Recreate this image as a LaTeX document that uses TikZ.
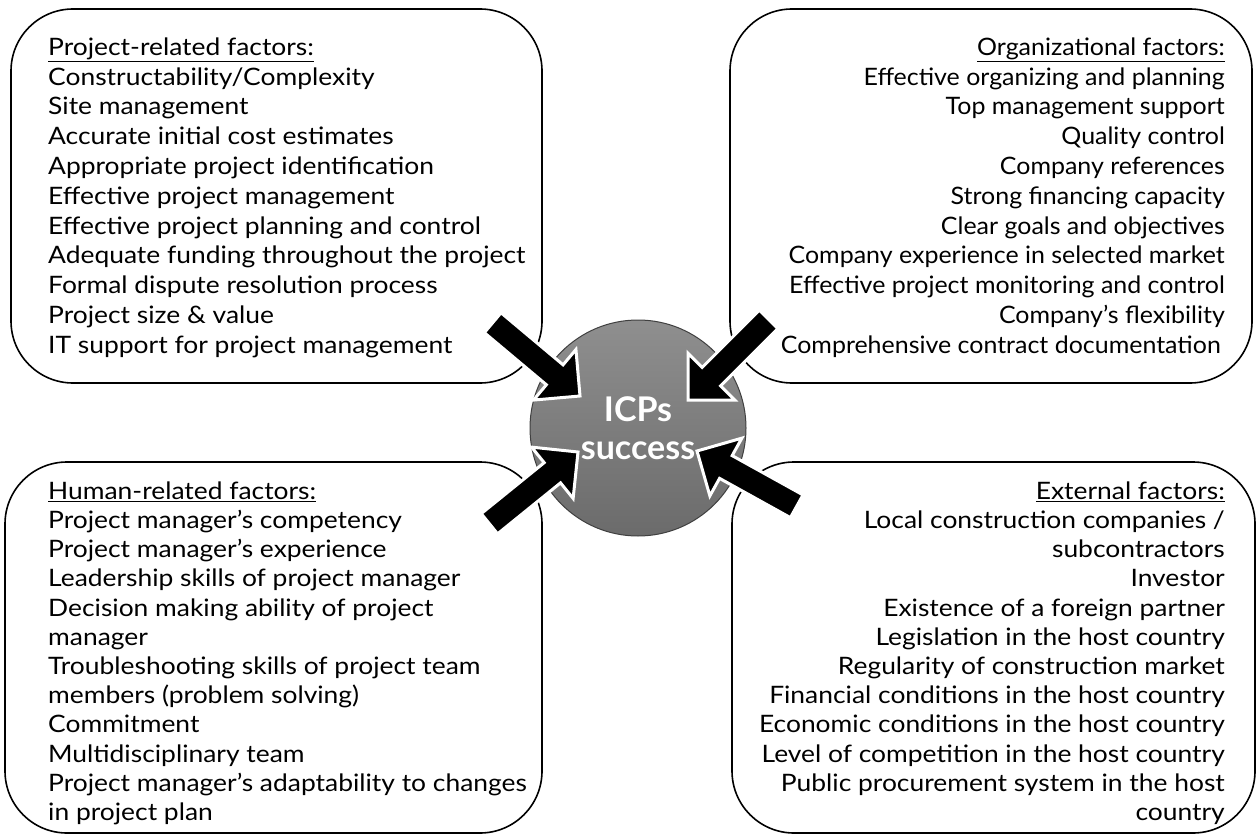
\documentclass[tikz,border=0pt]{standalone}
\usepackage{fontspec}
\setmainfont{Lato}[FakeStretch=1.1]
\newfontfamily\hubfont{Lato}
\newfontfamily\orgfont{Lato}[FakeStretch=1.04]
\usetikzlibrary{matrix}

\begin{document}
\begin{tikzpicture}[x=1pt, y=-1pt,
        factorbox/.style={draw, line width=1.6pt, rounded corners=62pt, fill=white, inner sep=0pt},
        factors/.style={matrix of nodes, inner sep=0pt, row sep=#1,
        nodes={inner sep=0pt, text height=20pt, text depth=8.7pt, font=\fontsize{24}{29}\selectfont}},
        hub/.style={circle, draw=black!75, line width=1pt, minimum size=216pt, top color=black!44, bottom color=black!58,
        text=white, align=center, font=\hubfont\fontsize{34}{38}\selectfont\bfseries},
        arrowshape/.style={fill=black, draw=white, line width=3pt, line join=miter},
        bigarrow/.pic={\draw[arrowshape] (0,0) -- (-33,33) -- (-33,13) -- (-114,13) -- (-114,-13) -- (-33,-13) -- (-33,-33) -- cycle;}]
        \useasboundingbox (0,0) rectangle (1258,837);
        \node[factorbox, minimum width=531pt, minimum height=374pt] (project) at (276.5,196) {};
        \node[factorbox, minimum width=522pt, minimum height=374pt] (organizational) at (991,196) {};
        \node[factorbox, minimum width=537pt, minimum height=371pt] (human) at (273.5,647.5) {};
        \node[factorbox, minimum width=523pt, minimum height=371pt] (external) at (993.5,647.5) {};
        \matrix[factors=1.1pt, anchor=north west, nodes={anchor=base west}] (projectlist) at (48,35) {
        \underline{Project-related factors:} \\
        Constructability/Complexity \\
        Site management \\
        Accurate initial cost estimates \\
        Appropriate project identification \\
        Effective project management \\
        Effective project planning and control \\
        Adequate funding throughout the project \\
        Formal dispute resolution process \\
        Project size \& value \\
        IT support for project management \\};
        \matrix[factors=1.1pt, anchor=north east, nodes={anchor=base east, font=\orgfont\fontsize{24}{29}\selectfont}] (orglist) at (1225,35) {
        \underline{Organizational factors:} \\
        Effective organizing and planning \\
        Top management support \\
        Quality control \\
        Company references \\
        Strong financing capacity \\
        Clear goals and objectives \\
        Company experience in selected market \\
        Effective project monitoring and control \\
        Company’s flexibility \\
        Comprehensive contract documentation\hspace{4pt} \\};
        \matrix[factors=0.5pt, anchor=north west, nodes={anchor=base west}] (humanlist) at (48,479) {
        \underline{Human-related factors:} \\
        Project manager’s competency \\
        Project manager’s experience \\
        Leadership skills of project manager \\
        Decision making ability of project \\
        manager \\
        Troubleshooting skills of project team \\
        members (problem solving) \\
        Commitment \\
        Multidisciplinary team \\
        Project manager’s adaptability to changes \\
        in project plan \\};
        \matrix[factors=0.5pt, anchor=north east, nodes={anchor=base east}] (extlist) at (1225,479) {
        \underline{External factors:} \\
        Local construction companies / \\
        subcontractors \\
        Investor \\
        Existence of a foreign partner \\
        Legislation in the host country \\
        Regularity of construction market \\
        Financial conditions in the host country \\
        Economic conditions in the host country \\
        Level of competition in the host country \\
        Public procurement system in the host \\
        country \\};
        \node[hub] (hub) at (638,428) {ICPs\\success};
        % arrows into the hub
        \coordinate (tipTL) at (580,396);
        \coordinate (tipTR) at (688,400);
        \coordinate (tipBL) at (578,452);
        \coordinate (tipBR) at (697,451);
        \pic[rotate=-40] at (tipTL) {bigarrow};
        \pic[rotate=-135] at (tipTR) {bigarrow};
        \pic[rotate=39] at (tipBL) {bigarrow};
        \pic[rotate=151] at (tipBR) {bigarrow};
    \end{tikzpicture}
\end{document}
